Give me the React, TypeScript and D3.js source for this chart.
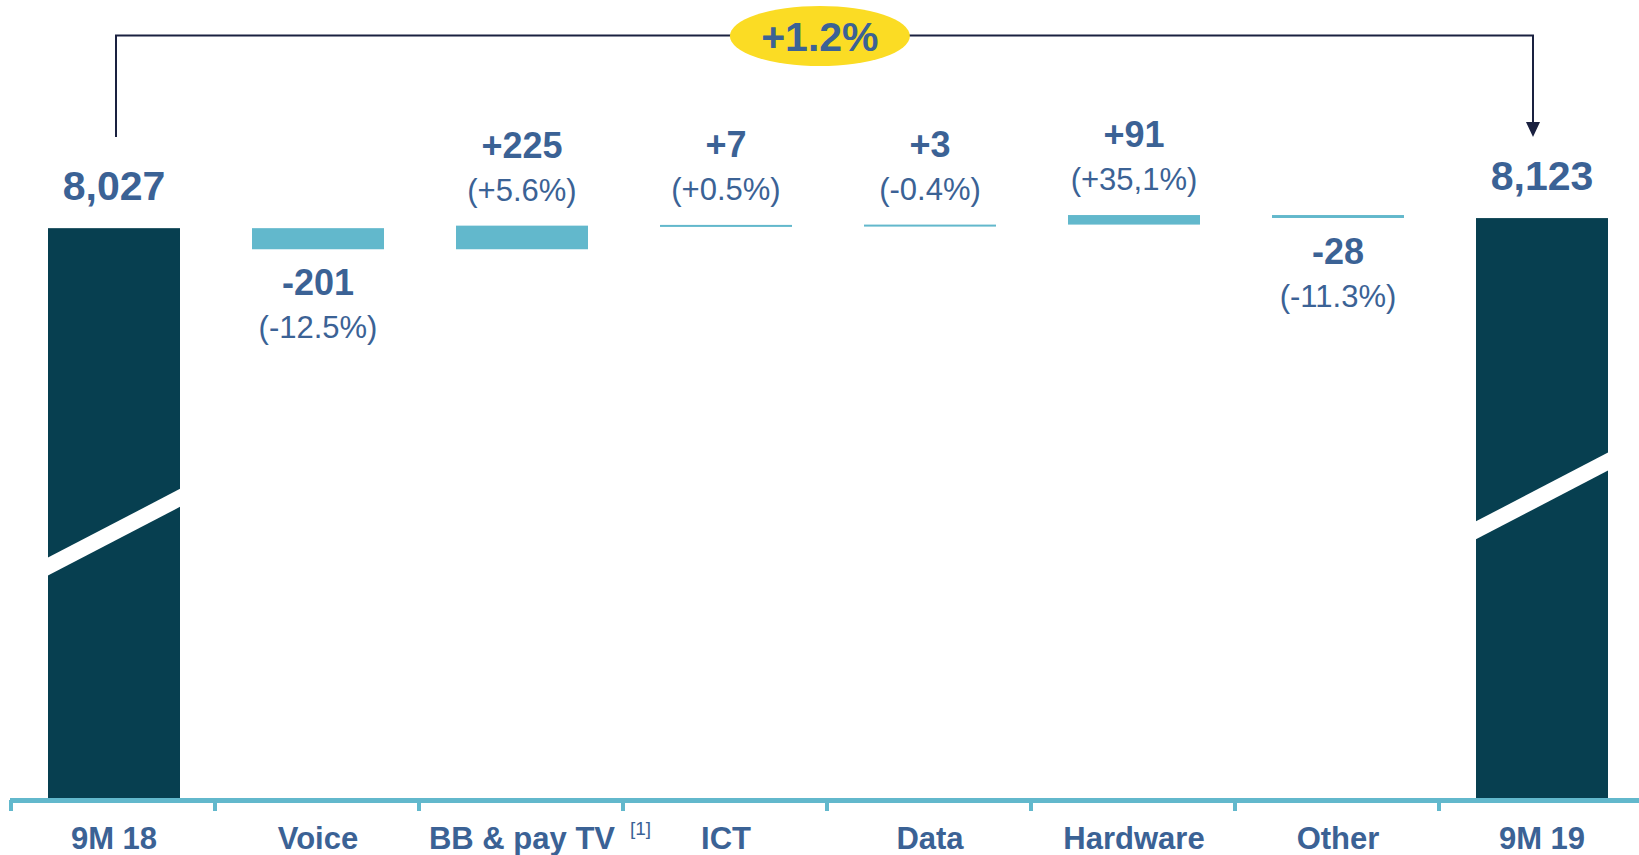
import { useEffect, useRef } from 'react';
import * as d3 from 'd3';

const categories = ['9M 18', 'Voice', 'BB & pay TV', 'ICT', 'Data', 'Hardware', 'Other', '9M 19'];
const startTotal = 8027;
const endTotal = 8123;
const deltas = [-201, 225, 7, 3, 91, -28];
const deltaLabels = ['-201', '+225', '+7', '+3', '+91', '-28'];
const pctLabels = ['(-12.5%)', '(+5.6%)', '(+0.5%)', '(-0.4%)', '(+35,1%)', '(-11.3%)'];
const totalLabels = ['8,027', '8,123'];
const growthLabel = '+1.2%';

const W = 1639;
const H = 855;
const DARK = '#073f50';
const LIGHT = '#62b8cc';
const TEXT = '#3b6295';
const FONT = '"Liberation Sans", Arial, sans-serif';

const App = () => {
  const svgRef = useRef<SVGSVGElement>(null);

  useEffect(() => {
    const svg = d3.select(svgRef.current);
    svg.selectAll('*').remove();

    const x = d3.scaleBand().domain(categories).range([10, 1642]).paddingInner(0).paddingOuter(0);
    // broken value axis: bottom of the plot stands for 2580
    const y = d3.scaleLinear().domain([2580, 8200]).range([800, 210]);
    const barW = x.bandwidth() * 0.647;
    const cx = (c: string) => (x(c) as number) + x.bandwidth() / 2 + 2;

    // totals
    const totals = [
      { cat: categories[0], value: startTotal, label: totalLabels[0], brk: [0.577, 0.455] },
      { cat: categories[categories.length - 1], value: endTotal, label: totalLabels[1], brk: [0.522, 0.402] },
    ];
    totals.forEach((t) => {
      const x0 = cx(t.cat) - barW / 2;
      const top = y(t.value);
      const bottom = y.range()[0];
      svg.append('rect').attr('x', x0).attr('y', top).attr('width', barW).attr('height', bottom - top).attr('fill', DARK);
      // axis break stripe
      const h = bottom - top;
      const yl = top + h * t.brk[0];
      const yr = top + h * t.brk[1];
      svg.append('path')
        .attr('d', `M${x0 - 1},${yl} L${x0 + barW + 1},${yr} L${x0 + barW + 1},${yr + 18} L${x0 - 1},${yl + 18} Z`)
        .attr('fill', '#fff');
      svg.append('text').attr('x', cx(t.cat)).attr('y', top - 28).attr('text-anchor', 'middle')
        .attr('font-family', FONT).attr('font-weight', 'bold').attr('font-size', 41).attr('fill', TEXT).text(t.label);
    });

    // deltas
    let run = startTotal;
    deltas.forEach((d, i) => {
      const cat = categories[i + 1];
      const a = y(run);
      const b = y(run + d);
      run += d;
      const top = Math.min(a, b);
      const hgt = Math.max(Math.abs(a - b), 2);
      svg.append('rect').attr('x', cx(cat) - barW / 2).attr('y', top).attr('width', barW).attr('height', hgt).attr('fill', LIGHT);
      let vy: number;
      if (d >= 0) {
        vy = top - 25 - 43;
      } else {
        vy = top + hgt + 46;
      }
      svg.append('text').attr('x', cx(cat)).attr('y', vy).attr('text-anchor', 'middle')
        .attr('font-family', FONT).attr('font-weight', 'bold').attr('font-size', 36).attr('fill', TEXT).text(deltaLabels[i]);
      svg.append('text').attr('x', cx(cat)).attr('y', vy + 43).attr('text-anchor', 'middle')
        .attr('font-family', FONT).attr('font-size', 31).attr('fill', TEXT).text(pctLabels[i]);
    });

    // axis
    const ax = svg.append('g');
    ax.append('rect').attr('x', 10).attr('y', 798).attr('width', W - 10).attr('height', 5).attr('fill', LIGHT);
    categories.forEach((c) => {
      ax.append('rect').attr('x', (x(c) as number) - 1).attr('y', 800).attr('width', 4).attr('height', 11).attr('fill', LIGHT);
      ax.append('text').attr('x', cx(c)).attr('y', 849).attr('text-anchor', 'middle')
        .attr('font-family', FONT).attr('font-weight', 'bold').attr('font-size', 31).attr('fill', TEXT).text(c);
    });
    ax.append('text').attr('x', cx(categories[2]) + 108).attr('y', 835)
      .attr('font-family', FONT).attr('font-size', 19).attr('fill', TEXT).text('[1]');

    // growth bracket
    const lx = cx(categories[0]) + 2;
    const rx = cx(categories[categories.length - 1]) - 9;
    const by = 35.5;
    const endY = 137;
    svg.append('path').attr('d', `M${lx},${endY} V${by} H${rx} V${endY - 14}`)
      .attr('fill', 'none').attr('stroke', '#1a2140').attr('stroke-width', 2);
    svg.append('path').attr('d', `M${rx - 7},${endY - 15} L${rx + 7},${endY - 15} L${rx},${endY} Z`).attr('fill', '#1a2140');
    const mx = (x(categories[3]) as number) + x.bandwidth() * 0.97;
    svg.append('ellipse').attr('cx', mx).attr('cy', 36).attr('rx', 90).attr('ry', 30).attr('fill', '#fbdc24');
    svg.append('text').attr('x', mx).attr('y', 51).attr('text-anchor', 'middle')
      .attr('font-family', FONT).attr('font-weight', 'bold').attr('font-size', 41).attr('fill', TEXT).text(growthLabel);
  }, []);

  return (
    <svg ref={svgRef} width={W} height={H}
      style={{ position: 'absolute', left: 0, top: 0, display: 'block', background: '#fff' }} />
  );
};

export default App;
